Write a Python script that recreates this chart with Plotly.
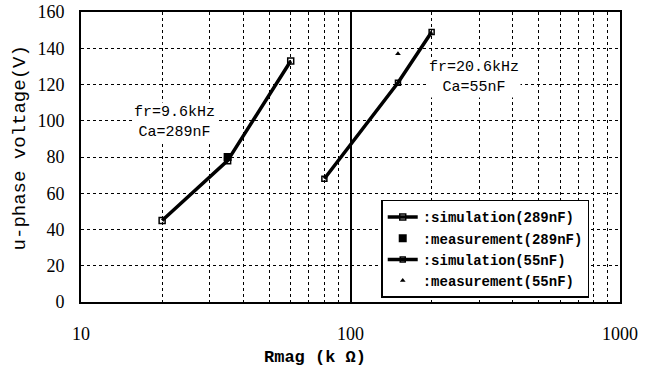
import plotly.graph_objects as go

# Data
sim289_x = [20, 35, 60]
sim289_y = [45, 78, 133]
meas289_x = [35]
meas289_y = [80]
sim55_x = [80, 150, 200]
sim55_y = [68, 121, 149]
meas55_x = [150]
meas55_y = [137]

x_tickvals = [10, 100, 1000]
x_ticktext = ["10", "100", "1000"]
x_minor_vals = [20, 30, 40, 50, 60, 70, 80, 90, 200, 300, 400, 500, 600, 700, 800, 900]
y_tickvals = [0, 20, 40, 60, 80, 100, 120, 140, 160]

MONO = "Liberation Mono"
SERIF = "Liberation Serif"

fig = go.Figure()
fig.add_trace(go.Scatter(
    x=sim289_x, y=sim289_y, mode="lines+markers",
    name="<b>:simulation(289nF)</b>",
    line=dict(color="black", width=3.5),
    marker=dict(symbol="square-open", size=6, color="black", line=dict(width=1.5)),
))
fig.add_trace(go.Scatter(
    x=meas289_x, y=meas289_y, mode="markers",
    name="<b>:measurement(289nF)</b>",
    marker=dict(symbol="square", size=8, color="black"),
))
fig.add_trace(go.Scatter(
    x=sim55_x, y=sim55_y, mode="lines+markers",
    name="<b>:simulation(55nF)</b>",
    line=dict(color="black", width=3.5),
    marker=dict(symbol="square-open", size=5, color="black", line=dict(width=1.5)),
))
fig.add_trace(go.Scatter(
    x=meas55_x, y=meas55_y, mode="markers",
    name="<b>:measurement(55nF)</b>",
    marker=dict(symbol="triangle-up", size=5, color="black"),
))

fig.add_annotation(x=1.348, y=99, xref="x", yref="y", text="fr=9.6kHz<br>Ca=289nF",
                   showarrow=False, bgcolor="white",
                   font=dict(family=MONO, size=15, color="black"))
fig.add_annotation(x=2.459, y=124, xref="x", yref="y", text="fr=20.6kHz<br>Ca=55nF",
                   showarrow=False, bgcolor="white",
                   font=dict(family=MONO, size=15, color="black"))

fig.add_annotation(x=-0.113, y=0.53, xref="paper", yref="paper", text="u-phase voltage(V)",
                   textangle=-90, showarrow=False, xanchor="center", yanchor="middle",
                   font=dict(family=MONO, size=19, color="black"))
fig.add_annotation(x=0.435, y=-0.193, xref="paper", yref="paper", text="<b>Rmag (k Ω)</b>",
                   showarrow=False, xanchor="center", yanchor="middle",
                   font=dict(family=MONO, size=17, color="black"))

fig.update_layout(
    width=645, height=370,
    margin=dict(l=81, r=25, t=12, b=68, autoexpand=False),
    plot_bgcolor="white", paper_bgcolor="white",
    showlegend=True,
    legend=dict(x=0.557, y=0.352, xanchor="left", yanchor="top",
                bgcolor="white", bordercolor="black", borderwidth=1.5,
                font=dict(family=MONO, size=14, color="black"),
                tracegroupgap=0, itemwidth=30),
)
fig.update_xaxes(
    type="log", range=[1, 3], automargin=False,
    tickvals=x_tickvals, ticktext=x_ticktext,
    showgrid=True, gridcolor="black", gridwidth=1.5,
    showline=True, linecolor="black", linewidth=2, mirror=True,
    ticks="outside", ticklen=14, tickcolor="rgba(0,0,0,0)",
    tickfont=dict(family=SERIF, size=18, color="black"),
    minor=dict(tickvals=x_minor_vals, showgrid=True, gridcolor="black",
               griddash="dot", gridwidth=1, ticks=""),
    zeroline=False,
)
fig.update_yaxes(
    range=[0, 160], tickvals=y_tickvals, automargin=False,
    showgrid=True, gridcolor="black", gridwidth=1, griddash="dot",
    showline=True, linecolor="black", linewidth=2, mirror=True,
    ticks="outside", ticklen=11, tickcolor="rgba(0,0,0,0)",
    tickfont=dict(family=SERIF, size=18, color="black"),
    zeroline=False,
)

fig.write_html("out.html", config={"displayModeBar": False},
               post_script="document.body.style.margin='0';document.body.style.overflow='hidden';")
